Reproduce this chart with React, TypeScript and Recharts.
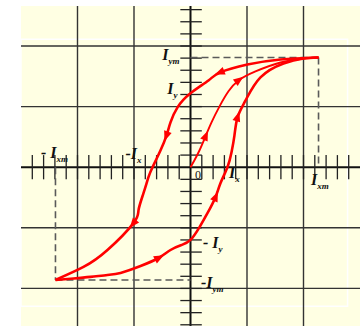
import { ComposedChart, Line, Scatter, XAxis, YAxis, ReferenceLine, ReferenceArea } from 'recharts';

// Hysteresis loop, drawn in tick units (5 ticks per grid cell)
const descending = [
  { x: 11.33, y: 9.05 },
  { x: 7.96, y: 8.89 },
  { x: 5.04, y: 8.47 },
  { x: 2.65, y: 7.83 },
  { x: 1.59, y: 7.16 },
  { x: 0, y: 6.1 },
  { x: -1.15, y: 4.94 },
  { x: -1.77, y: 3.7 },
  { x: -2.12, y: 2.63 },
  { x: -2.65, y: 1.4 },
  { x: -3.36, y: 0 },
  { x: -3.72, y: -0.82 },
  { x: -4.16, y: -2.14 },
  { x: -4.6, y: -3.54 },
  { x: -5.04, y: -4.61 },
  { x: -7.35, y: -6.83 },
  { x: -9.47, y: -8.23 },
  { x: -11.95, y: -9.3 },
];

const ascending = [
  { x: -11.95, y: -9.3 },
  { x: -10.35, y: -9.18 },
  { x: -8.85, y: -9.05 },
  { x: -7.35, y: -8.89 },
  { x: -6.19, y: -8.72 },
  { x: -4.42, y: -8.15 },
  { x: -2.83, y: -7.49 },
  { x: -1.77, y: -6.83 },
  { x: -0.8, y: -6.42 },
  { x: 0, y: -6.0 },
  { x: 0.8, y: -4.94 },
  { x: 1.5, y: -3.79 },
  { x: 2.21, y: -2.47 },
  { x: 2.65, y: -1.32 },
  { x: 3.27, y: 0 },
  { x: 3.63, y: 1.23 },
  { x: 3.89, y: 2.63 },
  { x: 4.16, y: 4.12 },
  { x: 4.87, y: 5.51 },
  { x: 6.19, y: 7.41 },
  { x: 8.23, y: 8.56 },
  { x: 10.0, y: 8.97 },
  { x: 11.33, y: 9.05 },
];

// initial magnetisation curve from the origin
const initial = [
  { x: 0, y: 0 },
  { x: 0.35, y: 0.58 },
  { x: 0.8, y: 1.4 },
  { x: 1.33, y: 2.55 },
  { x: 1.86, y: 3.7 },
  { x: 2.57, y: 5.02 },
  { x: 3.36, y: 6.26 },
  { x: 4.25, y: 7.16 },
  { x: 5.75, y: 7.9 },
  { x: 7.96, y: 8.64 },
  { x: 10.0, y: 8.97 },
  { x: 11.33, y: 9.05 },
];

const descendingArrows = [3, 8, 14];
const ascendingArrows = [6, 12, 17];
const initialArrows = [3, 7];

const satPos = { x: 11.33, y: 9.05 };
const satNeg = { x: -11.95, y: -9.3 };

const gridX = [-10, -5, 5, 10];
const gridY = [-10, -5, 5, 10];
const ticksX = Array.from({ length: 29 }, (_, i) => i - 14).filter((v) => v !== 0);
const ticksY = Array.from({ length: 27 }, (_, i) => i - 13).filter((v) => v !== 0);

const labels = [
  { x: -2.5, y: 8.84, pre: '', main: 'I', sub: 'ym' },
  { x: -2.05, y: 6.04, pre: '', main: 'I', sub: 'y' },
  { x: -5.75, y: 0.68, pre: '-', main: 'I', sub: 'x' },
  { x: -13.23, y: 0.76, pre: '- ', main: 'I', sub: 'xm' },
  { x: 0.4, y: -0.97, pre: '', main: '0', sub: '' },
  { x: 3.41, y: -0.89, pre: '', main: 'I', sub: 'x' },
  { x: 10.66, y: -1.47, pre: '', main: 'I', sub: 'xm' },
  { x: 1.11, y: -6.67, pre: '- ', main: 'I', sub: 'y' },
  { x: 0.93, y: -9.97, pre: '-', main: 'I', sub: 'ym' },
];

const W = 339;
const H = 320;
const X_DOMAIN: [number, number] = [-15, 15];
const Y_DOMAIN: [number, number] = [-13.1, 13.3];
const KX = W / (X_DOMAIN[1] - X_DOMAIN[0]);
const KY = H / (Y_DOMAIN[1] - Y_DOMAIN[0]);

const RED = '#ff0000';
const SERIF = "'Liberation Serif', 'Times New Roman', serif";

type Pt = { x: number; y: number };

function arrowDot(series: Pt[], marks: number[]) {
  return (props: any) => {
    const { cx, cy, index } = props;
    if (!marks.includes(index) || cx == null) return <g key={`d${index}`} />;
    const a = series[Math.max(index - 1, 0)];
    const b = series[Math.min(index + 1, series.length - 1)];
    const ang = (Math.atan2(-(b.y - a.y) * KY, (b.x - a.x) * KX) * 180) / Math.PI;
    return (
      <path
        key={`d${index}`}
        d="M6,0 L-4,-4 L-4,4 Z"
        fill={RED}
        transform={`translate(${cx},${cy}) rotate(${ang})`}
      />
    );
  };
}

function LabelShape(props: any) {
  const { cx, cy, payload } = props;
  const isZero = payload.main === '0';
  return (
    <text
      x={cx}
      y={cy}
      fontFamily={SERIF}
      fontSize={isZero ? 12 : 16}
      fontStyle={isZero ? 'normal' : 'italic'}
      fontWeight={isZero ? 'normal' : 'bold'}
      fill="#111"
    >
      {payload.pre && <tspan>{payload.pre}</tspan>}
      <tspan>{payload.main}</tspan>
      {payload.sub && (
        <tspan dy={4} fontSize={9}>
          {payload.sub}
        </tspan>
      )}
    </text>
  );
}

export default function App() {
  return (
    <div style={{ position: 'fixed', left: 0, top: 0, width: 360, height: 326, background: '#fff' }}>
      <div style={{ position: 'absolute', left: 21, top: 6, width: W, height: H, background: '#ffffe3' }}>
        <ComposedChart width={W} height={H} margin={{ top: 0, right: 0, bottom: 0, left: 0 }}>
          <XAxis type="number" dataKey="x" domain={X_DOMAIN} allowDataOverflow hide />
          <YAxis type="number" dataKey="y" domain={Y_DOMAIN} allowDataOverflow hide />

          <ReferenceArea x1={-15} x2={13.9} y1={-11.47} y2={10.56} fill="none" stroke="#ffffff" strokeWidth={1.5} />

          {gridX.map((v) => (
            <ReferenceLine key={`gx${v}`} x={v} stroke="#333" strokeWidth={1.4} />
          ))}
          {gridY.map((v) => (
            <ReferenceLine key={`gy${v}`} y={v} stroke="#333" strokeWidth={1.4} />
          ))}
          <ReferenceLine x={0} stroke="#111" strokeWidth={2} />
          <ReferenceLine y={0} stroke="#111" strokeWidth={2} />

          {ticksX.map((v) => (
            <ReferenceLine
              key={`tx${v}`}
              segment={[{ x: v, y: -1 }, { x: v, y: 1 }]}
              stroke="#222"
              strokeWidth={1.3}
            />
          ))}
          {ticksY.map((v) => (
            <ReferenceLine
              key={`ty${v}`}
              segment={[{ x: -0.9, y: v }, { x: 1, y: v }]}
              stroke="#222"
              strokeWidth={1.3}
            />
          ))}

          {/* saturation box */}
          <ReferenceLine segment={[{ x: 0, y: satPos.y }, satPos]} stroke="#5a5a5a" strokeWidth={1.6} strokeDasharray="7 4" />
          <ReferenceLine segment={[satPos, { x: satPos.x, y: 0 }]} stroke="#5a5a5a" strokeWidth={1.6} strokeDasharray="7 4" />
          <ReferenceLine segment={[{ x: satNeg.x, y: 0 }, satNeg]} stroke="#5a5a5a" strokeWidth={1.6} strokeDasharray="7 4" />
          <ReferenceLine segment={[satNeg, { x: 0, y: satNeg.y }]} stroke="#5a5a5a" strokeWidth={1.6} strokeDasharray="7 4" />

          <Line
            data={initial}
            dataKey="y"
            type="natural"
            stroke={RED}
            strokeWidth={1.9}
            dot={arrowDot(initial, initialArrows)}
            activeDot={false}
            isAnimationActive={false}
          />
          <Line
            data={descending}
            dataKey="y"
            type="natural"
            stroke={RED}
            strokeWidth={2.6}
            dot={arrowDot(descending, descendingArrows)}
            activeDot={false}
            isAnimationActive={false}
          />
          <Line
            data={ascending}
            dataKey="y"
            type="natural"
            stroke={RED}
            strokeWidth={2.6}
            dot={arrowDot(ascending, ascendingArrows)}
            activeDot={false}
            isAnimationActive={false}
          />

          <Scatter data={labels} dataKey="y" shape={LabelShape} isAnimationActive={false} />
        </ComposedChart>
      </div>
    </div>
  );
}
